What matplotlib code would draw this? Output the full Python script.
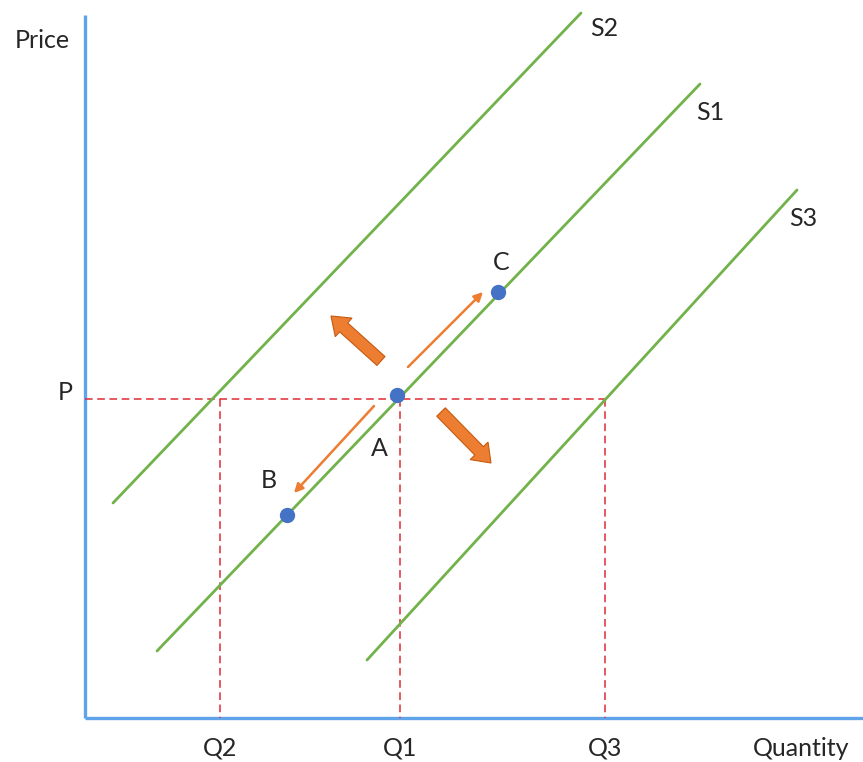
import matplotlib
matplotlib.use("Agg")
import matplotlib.pyplot as plt

# ── Data (pixel-like coordinates, y grows downward) ─────────────────────────
curve_names = ["S2", "S1", "S3"]
curve_x = [[113, 581], [157, 700], [367, 797]]
curve_y = [[503, 13], [651, 84], [660, 190]]
curve_label_xy = [(604, 29), (710, 112), (803, 219)]

point_names = ["A", "B", "C"]
point_x = [397, 287, 498]
point_y = [395, 515, 292]
point_label_xy = [(379, 448), (269, 480), (501, 262)]

price_level = 399
q_names = ["Q2", "Q1", "Q3"]
q_values = [220, 400, 605]

# movement along S1 (thin) and shifts of the curve (thick)
move_from = [(408, 367), (374, 406)]
move_to = [(483, 292), (294, 493)]
shift_from = [(381, 361), (441, 412)]
shift_to = [(331, 316), (491, 463)]

AXIS_C = "#5fa4ea"
GREEN = "#72b24a"
ORANGE = "#ed7d31"
BLUE = "#4472c4"
RED = "#de2b36"
TXT = "#262626"

plt.rcParams["font.family"] = ["Lato", "DejaVu Sans"]
FS = 18

fig = plt.figure(figsize=(8.63, 7.62), dpi=100)
ax = fig.add_axes([0, 0, 1, 1])
ax.set_xlim(0, 863)
ax.set_ylim(762, 0)
ax.axis("off")

# axes
origin_x, origin_y = 85, 718
ax.plot([origin_x, origin_x], [15, origin_y], color=AXIS_C, lw=2.4, solid_capstyle="butt")
ax.plot([origin_x, 863], [origin_y, origin_y], color=AXIS_C, lw=2.4, solid_capstyle="butt")

# dashed guides
ax.plot([origin_x, q_values[-1]], [price_level, price_level], color=RED, lw=1.1,
        dashes=(5, 3))
for q in q_values:
    ax.plot([q, q], [price_level, origin_y], color=RED, lw=1.1, dashes=(5, 3))

# supply curves
for xs, ys, name, (lx, ly) in zip(curve_x, curve_y, curve_names, curve_label_xy):
    ax.plot(xs, ys, color=GREEN, lw=2.0, solid_capstyle="round")
    ax.text(lx, ly, name, fontsize=FS, color=TXT, ha="center", va="center")

# thin arrows
for (x0, y0), (x1, y1) in zip(move_from, move_to):
    ax.annotate("", xy=(x1, y1), xytext=(x0, y0),
                arrowprops=dict(arrowstyle="-|>", color=ORANGE, lw=1.8,
                                mutation_scale=13, shrinkA=0, shrinkB=0))

# thick arrows
for (x0, y0), (x1, y1) in zip(shift_from, shift_to):
    ax.arrow(x0, y0, x1 - x0, y1 - y0, width=12, head_width=25, head_length=17,
             length_includes_head=True, facecolor=ORANGE, edgecolor="#c55a11",
             lw=0.8, zorder=3)

# points
ax.plot(point_x, point_y, "o", color=BLUE, markersize=10, zorder=4)
for name, (lx, ly) in zip(point_names, point_label_xy):
    ax.text(lx, ly, name, fontsize=FS, color=TXT, ha="center", va="center")

# axis labels
ax.text(42, 40, "Price", fontsize=FS, color=TXT, ha="center", va="center")
ax.text(65, 393, "P", fontsize=FS, color=TXT, ha="center", va="center")
for name, q in zip(q_names, q_values):
    ax.text(q, 748, name, fontsize=FS, color=TXT, ha="center", va="center")
ax.text(801, 748, "Quantity", fontsize=FS, color=TXT, ha="center", va="center")

fig.savefig("out.png", dpi=100)
